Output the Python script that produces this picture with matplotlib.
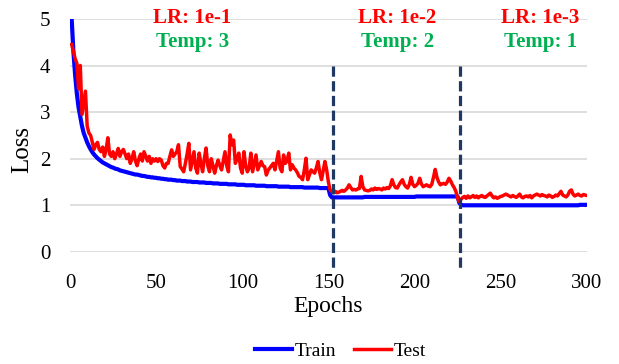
import matplotlib.pyplot as plt
import numpy as np

plt.rcParams['font.family'] = 'Liberation Serif'

epochs = np.arange(1, 301)

train_loss = [
    5.00, 4.30, 3.80, 3.40, 3.10, 2.90, 2.70, 2.55, 2.45, 2.35,
    2.27, 2.20, 2.14, 2.09, 2.05, 2.01, 1.98, 1.95, 1.92, 1.90,
    1.88, 1.86, 1.84, 1.82, 1.81, 1.79, 1.78, 1.77, 1.75, 1.74,
    1.73, 1.72, 1.71, 1.70, 1.69, 1.68, 1.67, 1.66, 1.66, 1.65,
    1.64, 1.63, 1.63, 1.62, 1.61, 1.61, 1.60, 1.60, 1.59, 1.59,
    1.58, 1.58, 1.57, 1.57, 1.56, 1.56, 1.55, 1.55, 1.55, 1.54,
    1.54, 1.53, 1.53, 1.53, 1.52, 1.52, 1.52, 1.51, 1.51, 1.51,
    1.50, 1.50, 1.50, 1.50, 1.49, 1.49, 1.49, 1.49, 1.48, 1.48,
    1.48, 1.48, 1.47, 1.47, 1.47, 1.47, 1.46, 1.46, 1.46, 1.46,
    1.46, 1.45, 1.45, 1.45, 1.45, 1.45, 1.44, 1.44, 1.44, 1.44,
    1.44, 1.43, 1.43, 1.43, 1.43, 1.43, 1.43, 1.42, 1.42, 1.42,
    1.42, 1.42, 1.42, 1.41, 1.41, 1.41, 1.41, 1.41, 1.41, 1.41,
    1.40, 1.40, 1.40, 1.40, 1.40, 1.40, 1.40, 1.39, 1.39, 1.39,
    1.39, 1.39, 1.39, 1.39, 1.39, 1.38, 1.38, 1.38, 1.38, 1.38,
    1.38, 1.38, 1.38, 1.38, 1.37, 1.37, 1.37, 1.37, 1.37, 1.37,
    1.22, 1.17, 1.17, 1.17, 1.17, 1.17, 1.17, 1.17, 1.17, 1.17,
    1.17, 1.17, 1.17, 1.17, 1.17, 1.17, 1.17, 1.17, 1.17, 1.17,
    1.18, 1.18, 1.18, 1.18, 1.18, 1.18, 1.18, 1.18, 1.18, 1.18,
    1.18, 1.18, 1.18, 1.18, 1.18, 1.18, 1.18, 1.18, 1.18, 1.18,
    1.18, 1.18, 1.18, 1.18, 1.18, 1.18, 1.18, 1.18, 1.18, 1.18,
    1.19, 1.19, 1.19, 1.19, 1.19, 1.19, 1.19, 1.19, 1.19, 1.19,
    1.19, 1.19, 1.19, 1.19, 1.19, 1.19, 1.19, 1.19, 1.19, 1.19,
    1.19, 1.19, 1.19, 1.19, 1.19,
    1.05, 1.01, 1.00, 1.00, 1.00, 1.00, 1.00, 1.00, 1.00, 1.00,
    1.00, 1.00, 1.00, 1.00, 1.00, 1.00, 1.00, 1.00, 1.00, 1.00,
    1.00, 1.00, 1.00, 1.00, 1.00, 1.00, 1.00, 1.00, 1.00, 1.00,
    1.00, 1.00, 1.00, 1.00, 1.00, 1.00, 1.00, 1.00, 1.00, 1.00,
    1.00, 1.00, 1.00, 1.00, 1.00, 1.00, 1.00, 1.00, 1.00, 1.00,
    1.00, 1.00, 1.00, 1.00, 1.00, 1.00, 1.00, 1.00, 1.00, 1.00,
    1.00, 1.00, 1.00, 1.00, 1.00, 1.00, 1.00, 1.00, 1.00, 1.00,
    1.01, 1.01, 1.01, 1.01, 1.01,
]

test_loss = [
    4.45, 4.30, 4.15, 4.05, 3.50, 4.00, 2.95, 3.20, 3.45, 2.70,
    2.55, 2.50, 2.35, 2.20, 2.30, 2.35, 2.20, 2.15, 2.25, 2.05,
    2.20, 2.45, 2.10, 2.05, 2.15, 2.00, 2.10, 2.22, 2.05, 2.15,
    2.20, 2.10, 2.00, 2.10, 1.90, 2.00, 2.15, 1.95, 1.85, 2.00,
    2.10, 1.95, 2.15, 2.05, 1.95, 2.05, 1.90, 2.00, 1.95, 2.00,
    1.94, 2.00, 1.97, 1.85, 1.80, 1.90, 1.90, 2.05, 2.19, 2.05,
    2.10, 2.15, 2.30, 1.83, 1.78, 1.72, 1.90, 2.10, 2.33, 1.76,
    1.95, 2.15, 1.80, 1.69, 2.12, 1.90, 1.72, 2.00, 2.23, 1.85,
    1.72, 2.00, 1.85, 1.69, 1.85, 1.97, 1.85, 1.76, 1.95, 2.15,
    1.85, 1.72, 2.51, 2.30, 2.40, 1.90, 2.00, 2.12, 1.80, 1.69,
    2.15, 1.85, 1.72, 1.80, 2.12, 1.72, 1.90, 2.08, 1.76, 1.85,
    1.94, 1.85, 1.83, 1.65, 1.75, 1.80, 1.85, 1.90, 1.76, 1.95,
    2.15, 1.80, 1.72, 2.08, 1.90, 1.95, 2.12, 1.76, 1.87, 1.80,
    1.76, 1.70, 1.62, 1.60, 1.55, 1.75, 2.01, 1.55, 1.65, 1.76,
    1.72, 1.69, 1.80, 1.94, 1.70, 1.55, 1.75, 1.94, 1.76, 1.50,
    1.33, 1.30, 1.27, 1.30, 1.27, 1.28, 1.30, 1.32, 1.30, 1.33,
    1.37, 1.44, 1.38, 1.33, 1.34, 1.33, 1.35, 1.36, 1.62, 1.40,
    1.33, 1.32, 1.31, 1.32, 1.35, 1.33, 1.37, 1.34, 1.36, 1.35,
    1.33, 1.37, 1.35, 1.38, 1.36, 1.42, 1.55, 1.44, 1.38, 1.37,
    1.44, 1.50, 1.55, 1.45, 1.40, 1.37, 1.45, 1.60, 1.45, 1.40,
    1.43, 1.47, 1.58, 1.46, 1.40, 1.42, 1.44, 1.41, 1.40, 1.45,
    1.60, 1.77, 1.60, 1.50, 1.44, 1.46, 1.47, 1.45, 1.50, 1.58,
    1.52, 1.44, 1.38, 1.30, 1.15,
    1.08, 1.13, 1.17, 1.19, 1.15, 1.20, 1.16, 1.18, 1.21, 1.17,
    1.20, 1.16, 1.19, 1.21, 1.18, 1.17, 1.20, 1.23, 1.26, 1.20,
    1.16, 1.18, 1.15, 1.17, 1.19, 1.20, 1.22, 1.24, 1.22, 1.20,
    1.18, 1.21, 1.19, 1.17, 1.20, 1.24, 1.18, 1.16, 1.19, 1.20,
    1.18, 1.21, 1.16, 1.20, 1.22, 1.24, 1.22, 1.20, 1.23, 1.21,
    1.20, 1.18, 1.22, 1.20, 1.17, 1.19, 1.22, 1.20, 1.25, 1.30,
    1.22, 1.20, 1.18, 1.22, 1.30, 1.33, 1.24, 1.20, 1.22, 1.24,
    1.21, 1.20, 1.23, 1.22, 1.21,
]

phase_lines = [152.5, 226.5]
lr_labels = ['LR: 1e-1', 'LR: 1e-2', 'LR: 1e-3']
temp_labels = ['Temp: 3', 'Temp: 2', 'Temp: 1']
phase_centers = [71, 190, 273]

fig = plt.figure(figsize=(6.19, 3.64), dpi=100)
ax = fig.add_axes([0.113, 0.308, 0.835, 0.640])

ax.plot(epochs, train_loss, color='#0000FF', linewidth=3, label='Train', zorder=3)
ax.plot(epochs, test_loss, color='#FF0000', linewidth=2.5, label='Test', zorder=4)

# phase boundaries
for xv in phase_lines:
    ax.plot([xv, xv], [4.0, -0.35], color='#1F3864', linewidth=2.3,
            linestyle=(0, (3.2, 1.4)), clip_on=False, zorder=5)

for cx, lr, tp in zip(phase_centers, lr_labels, temp_labels):
    ax.text(cx, 5.03, lr, color='#FF0000', fontsize=15, fontweight='bold',
            ha='center', va='center')
    ax.text(cx, 4.5, tp, color='#00B050', fontsize=15, fontweight='bold',
            ha='center', va='center')

ax.set_xlim(0, 300)
ax.set_ylim(0, 5)
ax.set_xticks(range(0, 301, 50))
ax.set_yticks(range(0, 6))
ax.tick_params(axis='x', length=0, labelsize=15, pad=16)
ax.tick_params(axis='y', length=0, labelsize=15, pad=14)
ax.grid(axis='y', color='#D9D9D9', linewidth=1.2)
ax.set_axisbelow(True)
for s in ax.spines.values():
    s.set_visible(False)

ax.set_xlabel('Epochs', fontsize=17, labelpad=2)
ax.set_ylabel('Loss', fontsize=18)
ax.yaxis.set_label_coords(-0.072, 0.44)

fig.legend(loc='center', bbox_to_anchor=(0.55, 0.035), ncol=2, frameon=False,
           fontsize=14, handlelength=1.9, handletextpad=0.15, columnspacing=0.9)

fig.savefig('out.png', dpi=100)
